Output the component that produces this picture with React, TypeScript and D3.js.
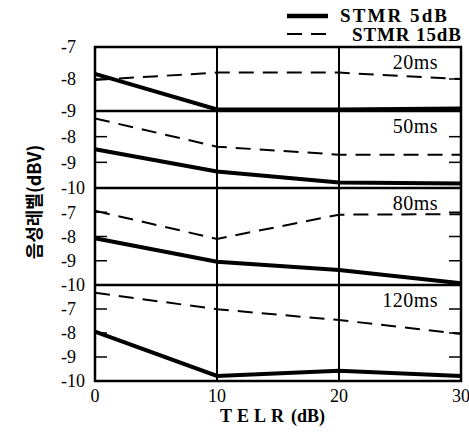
import React from "react";
import * as d3 from "d3";

// TELR (dB) on x, voice level (dBV) on y, one panel per delay
const telr = [0, 10, 20, 30];
const xTicks = [0, 10, 20, 30];
const delays = ["20ms", "50ms", "80ms", "120ms"];
const stmr5 = [
  [-7.84, -8.95, -8.95, -8.92],
  [-8.49, -9.36, -9.79, -9.82],
  [-8.07, -9.04, -9.38, -9.93],
  [-7.94, -9.79, -9.57, -9.79],
];
const stmr15 = [
  [-8.03, -7.8, -7.8, -8.0],
  [-7.29, -8.39, -8.7, -8.7],
  [-6.94, -8.1, -7.1, -7.08],
  [-6.32, -7.01, -7.46, -8.04],
];
const panelDomains = [
  [-9, -7],
  [-10, -7],
  [-10, -6],
  [-10, -6],
];
const panelTicks = [
  [-7, -8, -9],
  [-8, -9, -10],
  [-7, -8, -9, -10],
  [-7, -8, -9, -10],
];
const legendLabels = ["STMR 5dB", "STMR 15dB"];

const W = 469;
const H = 434;
const left = 95;
const right = 461;
const top = 47;
const panelHeights = [64, 77, 97, 96];
const serif = "'Liberation Serif', 'DejaVu Serif', serif";

export default function App() {
  const x = d3.scaleLinear().domain([0, 30]).range([left, right]);

  let acc = top;
  const panels = panelHeights.map((h, i) => {
    const y0 = acc;
    acc += h;
    const y = d3
      .scaleLinear()
      .domain(panelDomains[i])
      .range([y0 + h, y0]);
    return { y0, y1: y0 + h, y };
  });
  const bottom = acc;

  return (
    <svg
      width={W}
      height={H}
      style={{ position: "absolute", left: 0, top: 0, background: "#fff" }}
    >
      {/* legend */}
      <line x1={287} x2={328} y1={16} y2={16} stroke="#000" strokeWidth={4.5} />
      <text x={340} y={22} fontFamily={serif} fontWeight="bold" fontSize={19} textLength={107}>
        {legendLabels[0]}
      </text>
      <line
        x1={287}
        x2={328}
        y1={34}
        y2={34}
        stroke="#000"
        strokeWidth={2}
        strokeDasharray="15 9"
      />
      <text x={352} y={41} fontFamily={serif} fontWeight="bold" fontSize={19} textLength={109}>
        {legendLabels[1]}
      </text>

      {/* vertical grid lines */}
      {xTicks.slice(1, -1).map((t) => (
        <line key={t} x1={x(t)} x2={x(t)} y1={top} y2={bottom} stroke="#000" strokeWidth={2} />
      ))}

      {panels.map((p, i) => {
        const line = d3
          .line<number>()
          .x((_, j) => x(telr[j]))
          .y((d) => p.y(d));
        return (
          <g key={i}>
            {panelTicks[i].map((t) => (
              <g key={t}>
                {t !== panelDomains[i][0] && t !== panelDomains[i][1] && (
                  <>
                    <line x1={left} x2={left + 12} y1={p.y(t)} y2={p.y(t)} stroke="#000" strokeWidth={1.5} />
                    <line x1={right - 12} x2={right} y1={p.y(t)} y2={p.y(t)} stroke="#000" strokeWidth={1.5} />
                  </>
                )}
                <text
                  x={61}
                  y={p.y(t)}
                  dy="0.35em"
                  fontFamily={serif}
                  fontSize={18}
                >
                  {t}
                </text>
              </g>
            ))}
            <path d={line(stmr15[i]) ?? ""} fill="none" stroke="#000" strokeWidth={2} strokeDasharray="15 9" />
            <path d={line(stmr5[i]) ?? ""} fill="none" stroke="#000" strokeWidth={4} />
            <text
              x={438}
              y={p.y0 + 15}
              dy="0.35em"
              textAnchor="end"
              fontFamily={serif}
              fontSize={20}
              letterSpacing={0.5}
            >
              {delays[i]}
            </text>
            {i > 0 && (
              <line x1={left} x2={right} y1={p.y0} y2={p.y0} stroke="#000" strokeWidth={2.5} />
            )}
          </g>
        );
      })}

      {/* frame */}
      <rect
        x={left}
        y={top}
        width={right - left}
        height={bottom - top}
        fill="none"
        stroke="#000"
        strokeWidth={2.5}
      />

      {/* x axis */}
      {xTicks.map((t) => (
        <text
          key={t}
          x={x(t)}
          y={402}
          textAnchor="middle"
          fontFamily={serif}
          fontSize={18}
        >
          {t}
        </text>
      ))}
      <text x={220} y={422} fontFamily={serif} fontWeight="bold" fontSize={18}>
        <tspan letterSpacing={5}>TELR</tspan>
        <tspan dx={2}>(dB)</tspan>
      </text>

      {/* y axis title */}
      <text
        transform="translate(41,202) rotate(-90)"
        textAnchor="middle"
        fontFamily="'Noto Sans CJK KR', sans-serif"
        fontWeight="bold"
        fontSize={18}
      >
        음성레벨(dBV)
      </text>
    </svg>
  );
}
